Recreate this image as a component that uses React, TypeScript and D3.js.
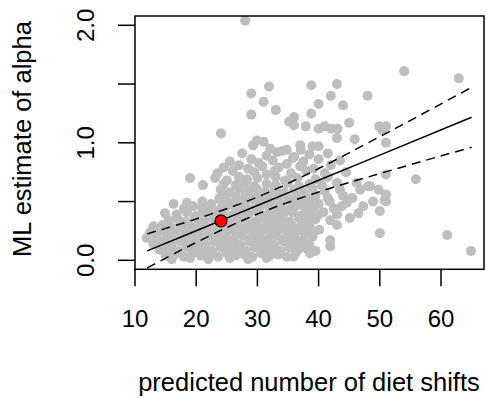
import React from 'react';
import * as d3 from 'd3';

// sparse points above the main cloud (predicted shifts, ML alpha)
const upperPoints: [number, number][] = [
  [28.0, 2.04], [31.9, 1.48], [29.0, 1.42], [31.0, 1.35], [33.0, 1.28], [29.0, 1.24],
  [36.0, 1.22], [35.2, 1.18], [36.0, 1.15], [37.9, 1.14], [38.8, 1.49], [38.8, 1.25],
  [43.0, 1.50], [42.0, 1.40], [40.0, 1.33], [44.0, 1.32], [48.0, 1.40], [54.0, 1.61],
  [62.9, 1.55], [45.0, 1.17], [40.0, 1.12], [41.0, 1.14], [42.1, 1.12], [43.1, 1.12],
  [49.9, 1.14], [51.0, 1.14], [50.4, 1.11], [24.05, 1.08], [43.0, 1.04], [45.9, 1.03],
  [51.0, 1.0], [39.0, 0.97], [40.0, 0.97], [37.1, 0.94], [34.8, 0.94], [37.0, 0.98],
  [29.3, 0.98], [29.9, 1.02], [31.0, 1.01], [32.1, 0.95], [34.0, 0.93],
];

// points to the right of the cloud
const rightPoints: [number, number][] = [
  [51.0, 0.73], [55.9, 0.69], [48.1, 0.63], [51.0, 0.56], [50.0, 0.23], [61.0, 0.215],
  [64.9, 0.08], [41.9, 0.12], [40.1, 0.26],
];

// main dense cloud
const cloudPoints: [number, number][] = [
  [27.5, 0.91], [31.5, 0.89], [33.2, 0.92], [36.0, 0.88], [38.5, 0.90], [41.5, 0.91],
  [25.5, 0.84], [29.0, 0.86], [30.2, 0.83], [32.5, 0.85], [35.8, 0.87], [37.5, 0.84], [40.0, 0.86], [43.5, 0.85],
  [24.5, 0.79], [27.0, 0.81], [28.5, 0.78], [30.8, 0.80], [33.5, 0.79], [34.8, 0.82], [37.0, 0.80], [39.2, 0.78], [42.0, 0.81],
  [23.5, 0.74], [26.0, 0.76], [29.5, 0.75], [31.5, 0.73], [32.8, 0.76], [35.5, 0.74], [38.0, 0.76], [41.0, 0.74], [44.5, 0.75],
  [19.0, 0.70], [23.1, 0.70], [25.0, 0.68], [27.0, 0.71], [28.3, 0.69], [30.0, 0.70], [33.0, 0.71], [34.5, 0.68],
  [36.5, 0.70], [39.5, 0.69], [41.5, 0.71], [46.2, 0.66],
  [21.1, 0.64], [24.5, 0.65], [26.5, 0.64], [28.0, 0.66], [29.5, 0.63], [31.5, 0.65], [33.0, 0.64], [35.0, 0.66],
  [36.8, 0.63], [38.5, 0.65], [40.5, 0.64], [43.0, 0.66], [48.4, 0.63],
  [24.0, 0.60], [25.5, 0.58], [27.0, 0.61], [28.5, 0.59], [30.0, 0.60], [31.3, 0.58], [32.8, 0.61],
  [34.3, 0.59], [36.0, 0.60], [37.5, 0.58], [39.0, 0.61], [41.0, 0.59], [43.5, 0.60], [46.8, 0.60], [49.8, 0.60],
  [23.8, 0.53], [25.0, 0.56], [26.5, 0.54], [28.0, 0.55], [29.2, 0.53], [30.5, 0.56],
  [32.0, 0.54], [33.5, 0.55], [35.0, 0.53], [36.5, 0.56], [38.0, 0.54], [39.5, 0.55], [41.5, 0.53], [44.0, 0.55],
  [45.5, 0.53], [50.8, 0.51],
  [18.5, 0.49], [21.0, 0.50], [22.5, 0.48], [24.0, 0.51], [25.3, 0.49], [26.8, 0.50], [28.0, 0.48], [29.5, 0.51],
  [31.0, 0.49], [32.3, 0.50], [33.8, 0.48], [35.5, 0.51], [37.0, 0.49], [38.5, 0.50], [40.0, 0.48], [41.8, 0.50],
  [44.6, 0.49], [47.3, 0.46], [48.9, 0.50], [51.0, 0.50],
  [16.3, 0.48], [18.0, 0.44], [19.5, 0.46], [21.0, 0.44], [22.3, 0.45], [23.8, 0.43], [25.0, 0.46], [26.5, 0.44],
  [27.8, 0.45], [29.0, 0.43], [30.5, 0.46], [32.0, 0.44], [33.5, 0.45], [35.0, 0.43], [36.3, 0.46], [37.8, 0.44],
  [39.2, 0.45], [40.8, 0.41], [42.5, 0.44], [43.8, 0.46], [46.5, 0.40], [50.0, 0.42],
  [14.9, 0.40], [16.8, 0.39], [18.5, 0.41], [20.0, 0.38], [21.5, 0.40], [23.0, 0.39], [24.3, 0.41], [25.8, 0.38],
  [27.2, 0.40], [28.5, 0.39], [30.0, 0.41], [31.3, 0.38], [32.8, 0.40], [34.2, 0.39], [35.7, 0.41], [37.0, 0.38],
  [38.5, 0.40], [40.0, 0.39], [41.9, 0.34], [43.0, 0.39], [45.1, 0.36],
  [15.5, 0.34], [17.0, 0.35], [18.3, 0.33], [19.8, 0.36], [21.3, 0.34], [22.8, 0.35], [24.0, 0.33], [25.5, 0.36],
  [26.8, 0.34], [28.2, 0.35], [29.7, 0.33], [31.0, 0.36], [32.5, 0.34], [33.8, 0.35], [35.3, 0.33], [36.8, 0.36],
  [38.2, 0.34], [39.5, 0.35], [43.0, 0.30],
  [13.0, 0.29], [14.5, 0.30], [16.0, 0.28], [17.5, 0.31], [19.0, 0.29], [20.3, 0.30], [21.8, 0.28], [23.2, 0.31],
  [24.6, 0.29], [26.0, 0.30], [27.4, 0.28], [28.8, 0.31], [30.2, 0.29], [31.6, 0.30], [33.0, 0.28], [34.4, 0.31],
  [35.8, 0.29], [37.2, 0.30], [38.6, 0.28],
  [12.5, 0.24], [14.0, 0.25], [15.3, 0.23], [16.8, 0.26], [18.2, 0.24], [19.6, 0.25], [21.0, 0.23], [22.4, 0.26],
  [23.8, 0.24], [25.2, 0.25], [26.6, 0.23], [28.0, 0.26], [29.4, 0.24], [30.8, 0.25], [32.2, 0.23], [33.6, 0.26],
  [35.0, 0.24], [36.4, 0.25], [37.8, 0.23], [39.2, 0.24],
  [11.9, 0.19], [13.5, 0.20], [15.0, 0.18], [16.4, 0.21], [17.8, 0.19], [19.2, 0.20], [20.6, 0.18], [22.0, 0.21],
  [23.4, 0.19], [24.8, 0.20], [26.2, 0.18], [27.6, 0.21], [29.0, 0.19], [30.4, 0.20], [31.8, 0.18], [33.2, 0.21],
  [34.6, 0.19], [36.0, 0.20], [37.5, 0.18], [39.0, 0.20],
  [13.0, 0.14], [14.5, 0.15], [16.0, 0.13], [17.4, 0.16], [18.8, 0.14], [20.2, 0.15], [21.6, 0.13], [23.0, 0.16],
  [24.4, 0.14], [25.8, 0.15], [27.2, 0.13], [28.6, 0.16], [30.0, 0.14], [31.4, 0.15], [32.8, 0.13], [34.2, 0.16],
  [35.6, 0.14], [37.0, 0.15], [38.5, 0.13], [41.9, 0.17],
  [14.0, 0.09], [15.5, 0.10], [17.0, 0.08], [18.4, 0.11], [19.8, 0.09], [21.2, 0.10], [22.6, 0.08], [24.0, 0.11],
  [25.4, 0.09], [26.8, 0.10], [28.2, 0.08], [29.6, 0.11], [31.0, 0.09], [32.4, 0.10], [33.8, 0.08], [35.2, 0.11],
  [36.6, 0.09], [38.0, 0.10], [39.5, 0.08],
  [15.0, 0.04], [16.5, 0.05], [18.0, 0.03], [19.4, 0.06], [20.8, 0.04], [22.2, 0.05], [23.6, 0.03], [25.0, 0.06],
  [26.4, 0.04], [27.8, 0.05], [29.2, 0.03], [30.6, 0.06], [32.0, 0.04], [33.4, 0.05], [34.8, 0.03], [36.2, 0.06],
  [38.6, 0.06],
  [16.0, 0.01], [19.0, 0.02], [22.0, 0.01], [25.5, 0.02], [28.5, 0.01], [31.5, 0.02], [35.9, 0.03],
];

// highlighted species
const highlight: [number, number] = [24.05, 0.335];

// fitted line and its confidence band
const fitX = [12, 20, 30, 40, 50, 65];
const fitY = [0.080, 0.252, 0.466, 0.681, 0.895, 1.217];
const upperY = [0.225, 0.352, 0.538, 0.781, 1.052, 1.472];
const lowerY = [-0.065, 0.152, 0.394, 0.581, 0.738, 0.962];

const xTicks = [10, 20, 30, 40, 50, 60];
const yTicks = [0, 0.5, 1, 1.5, 2];
const yLabels = ['0.0', '1.0', '2.0'];

const W = 487;
const H = 398;
const box = { left: 135, right: 484, top: 16, bottom: 269.3 };
const font = '"Liberation Sans", Arial, sans-serif';

export default function App() {
  const x = d3.scaleLinear().domain([10, 60]).range([135, 441]);
  const y = d3.scaleLinear().domain([0, 2]).range([260.3, 25.3]);

  const line = d3.line<[number, number]>()
    .x(d => x(d[0]))
    .y(d => y(d[1]))
    .curve(d3.curveMonotoneX);

  const fitPath = line(fitX.map((v, i) => [v, fitY[i]]) as [number, number][]);
  const upPath = line(fitX.map((v, i) => [v, upperY[i]]) as [number, number][]);
  const loPath = line(fitX.map((v, i) => [v, lowerY[i]]) as [number, number][]);

  const allPoints = [...cloudPoints, ...rightPoints, ...upperPoints];
  const tickLen = 17;

  return (
    <svg width={W} height={H} style={{ position: 'absolute', left: 0, top: 0, background: '#fff' }}
      fontFamily={font}>
      <defs>
        <clipPath id="plotClip">
          <rect x={box.left} y={box.top} width={box.right - box.left} height={box.bottom - box.top} />
        </clipPath>
      </defs>
      <g clipPath="url(#plotClip)">
        {allPoints.map((p, i) => (
          <circle key={i} cx={x(p[0])} cy={y(p[1])} r={5} fill="#bebebe" />
        ))}
        <path d={fitPath ?? ''} fill="none" stroke="#000" strokeWidth={1.5} />
        <path d={upPath ?? ''} fill="none" stroke="#000" strokeWidth={1.5} strokeDasharray="9,6" />
        <path d={loPath ?? ''} fill="none" stroke="#000" strokeWidth={1.5} strokeDasharray="9,6" />
        <circle cx={x(highlight[0])} cy={y(highlight[1])} r={6} fill="#ff0000" stroke="#000" strokeWidth={1.2} />
      </g>
      <rect x={box.left} y={box.top} width={box.right - box.left} height={box.bottom - box.top}
        fill="none" stroke="#000" strokeWidth={1.5} />

      {/* x axis */}
      {xTicks.map(t => (
        <g key={t}>
          <line x1={x(t)} x2={x(t)} y1={box.bottom} y2={box.bottom + tickLen} stroke="#000" strokeWidth={1.5} />
          <text x={x(t)} y={327} textAnchor="middle" fontSize={24}>{t}</text>
        </g>
      ))}
      <text x={309} y={391} textAnchor="middle" fontSize={25.5}>
        predicted number of diet shifts
      </text>

      {/* y axis */}
      {yTicks.map(t => (
        <line key={t} x1={box.left - tickLen} x2={box.left} y1={y(t)} y2={y(t)} stroke="#000" strokeWidth={1.5} />
      ))}
      {yLabels.map(l => (
        <text key={l} transform={`translate(94,${y(+l)}) rotate(-90)`} textAnchor="middle" fontSize={24}>{l}</text>
      ))}
      <text transform={`translate(31,139) rotate(-90)`} textAnchor="middle" fontSize={25.5}>
        ML estimate of alpha
      </text>
    </svg>
  );
}
